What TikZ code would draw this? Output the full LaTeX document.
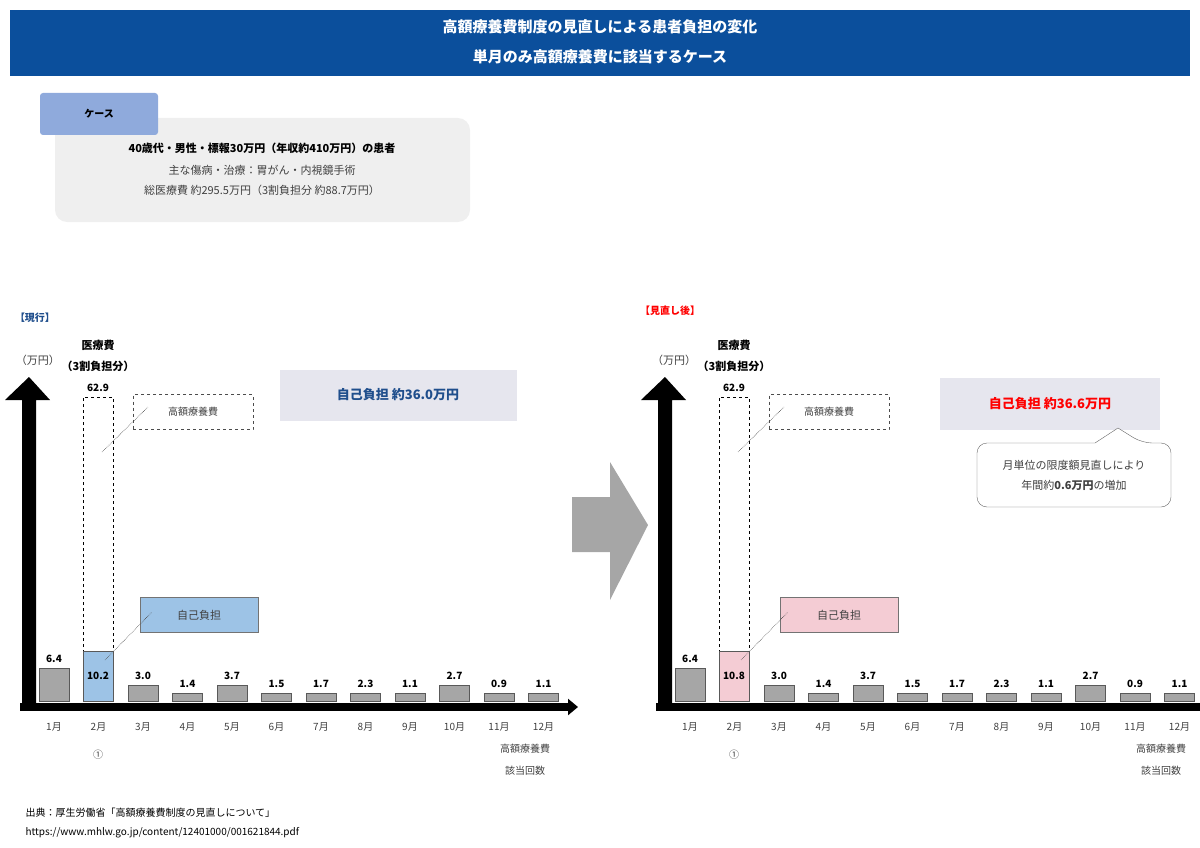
\documentclass[tikz,border=0pt]{standalone}
\usepackage{fontspec}
\setmainfont{Noto Sans CJK JP}
\usetikzlibrary{calc,positioning,arrows.meta}
\definecolor{hdrblue}{HTML}{0B4F9C}
\definecolor{tabblue}{HTML}{8FAADC}
\definecolor{casegray}{HTML}{EFEFEF}
\definecolor{barblue}{HTML}{9DC3E6}
\definecolor{barpink}{HTML}{F4CCD4}
\definecolor{sumbg}{HTML}{E6E6EE}
\definecolor{txtblue}{HTML}{1F4E8C}
\definecolor{txtgray}{HTML}{404040}
\tikzset{
  bar/.style={draw=black!65, fill=black!35, line width=0.8pt},
  val/.style={font=\fontsize{10}{12}\selectfont\bfseries, above=2pt},
  mon/.style={font=\fontsize{10}{12}\selectfont, text=txtgray},
  note/.style={font=\fontsize{11}{13}\selectfont, text=txtgray},
  lead/.style={densely dotted, black!70, line width=0.6pt}
}
% one chart panel: #1 bar-2 colour, #2 bar-2 value, #3 bar-2 height, #4 axis end
\newcommand\chartpanel[4]{
  \fill (22,707) -- (22,400) -- (5,400) -- (29,377) -- (50,400) -- (36,400) -- (36,707) -- cycle;
  \draw[line width=8pt, -{Triangle[length=10pt,width=16pt]}] (20,707) -- (#4,707);
  \node[note] at (38,360) {（万円）};
  \node[font=\fontsize{11}{13}\selectfont\bfseries] at (98,345) {医療費};
  \node[font=\fontsize{11}{13}\selectfont\bfseries] at (98,366) {（3割負担分）};
  \draw[dashed, line width=1pt] (83,701) rectangle (113,397);
  \node[val] at (98,397) {62.9};
  \foreach \i/\v/\h in {1/6.4/33, 3/3.0/16, 4/1.4/8, 5/3.7/16, 6/1.5/8, 7/1.7/8,
                        8/2.3/8, 9/1.1/8, 10/2.7/16, 11/0.9/8, 12/1.1/8}{
    \draw[bar] ({54+44.5*(\i-1)-15},701) rectangle ({54+44.5*(\i-1)+15},701-\h)
      coordinate (t\i);
    \node[val] at ({54+44.5*(\i-1)},701-\h) {\v};
  }
  \draw[bar, fill=#1] (83,701) rectangle (113,701-#3);
  \node[font=\fontsize{10}{12}\selectfont\bfseries] at (98,676) {#2};
  \foreach \i in {1,...,12}
    \node[mon] at ({54+44.5*(\i-1)},727) {\i 月};
  \node[mon] at (98,755) {①};
  \node[mon] at (525,749) {高額療養費};
  \node[mon] at (525,771) {該当回数};
  \node[draw=black!70, dashed, minimum width=120, minimum height=35, note,
        font=\fontsize{10}{12}\selectfont] (kogaku) at (193,412) {高額療養費};
  \draw[lead] (102,452) -- (148,407);
}
\begin{document}
\begin{tikzpicture}[x=1pt,y=-1pt]
\useasboundingbox (0,0) rectangle (1200,848);
\fill[hdrblue] (10,10) rectangle (1190,76);
\node[text=white, font=\fontsize{15}{18}\selectfont\bfseries] at (600,27) {高額療養費制度の見直しによる患者負担の変化};
\node[text=white, font=\fontsize{15}{18}\selectfont\bfseries] at (600,57) {単月のみ高額療養費に該当するケース};
% case
\fill[casegray, rounded corners=12] (55,118) rectangle (470,222);
\fill[tabblue, rounded corners=3] (40,93) rectangle (158,135);
\node[font=\fontsize{10}{12}\selectfont\bfseries] at (99,114) {ケース};
\node[font=\fontsize{11}{13}\selectfont\bfseries] at (262,148) {40歳代・男性・標報30万円（年収約410万円）の患者};
\node[note] at (262,170) {主な傷病・治療：胃がん・内視鏡手術};
\node[note] at (262,190) {総医療費 約295.5万円（3割負担分 約88.7万円）};
% current
\node[text=txtblue, font=\fontsize{10}{12}\selectfont\bfseries] at (35,318) {【現行】};
\begin{scope}
  \chartpanel{barblue}{10.2}{50}{578}
  \node[draw=black!55, fill=barblue, minimum width=118, minimum height=35, note] (jiko) at (199,615) {自己負担};
  \draw[lead] (105,660) -- (152,612);
  \node[fill=sumbg, minimum width=237, minimum height=51, text=txtblue,
        font=\fontsize{13}{15}\selectfont\bfseries] (sumA) at (398,395) {自己負担 約36.0万円};
\end{scope}
% middle arrow
\fill[black!35] (572,497) -- (610,497) -- (610,462) -- (648,525) -- (610,600) -- (610,552) -- (572,552) -- cycle;
% revised
\node[text=red, font=\fontsize{10}{12}\selectfont\bfseries] at (670,311) {【見直し後】};
\begin{scope}[xshift=636]
  \chartpanel{barpink}{10.8}{50}{640}
  \node[draw=black!55, fill=barpink, minimum width=118, minimum height=35, note] (jikoB) at (203,615) {自己負担};
  \draw[lead] (105,660) -- (152,612);
\end{scope}
\node[fill=sumbg, minimum width=220, minimum height=52, text=red,
      font=\fontsize{13}{15}\selectfont\bfseries] (sumB) at (1050,404) {自己負担 約36.6万円};
\draw[black!60, fill=white, rounded corners=10] (1067,443) -- (977,443) -- (977,507) -- (1171,507) -- (1171,443) -- (1142,443)
  [sharp corners] -- (1118,428) -- (1095,443) [rounded corners=10] -- cycle;
\node[note, align=center, font=\fontsize{11}{20}\selectfont] (call) at (1074,475) {月単位の限度額見直しにより\\年間約\textbf{0.6万円}の増加};
% source
\node[anchor=west, font=\fontsize{10}{12}\selectfont] at (22,813) {出典：厚生労働省「高額療養費制度の見直しについて」};
\node[anchor=west, font=\fontsize{10}{12}\selectfont] at (22,833) {https://www.mhlw.go.jp/content/12401000/001621844.pdf};
\end{tikzpicture}
\end{document}
